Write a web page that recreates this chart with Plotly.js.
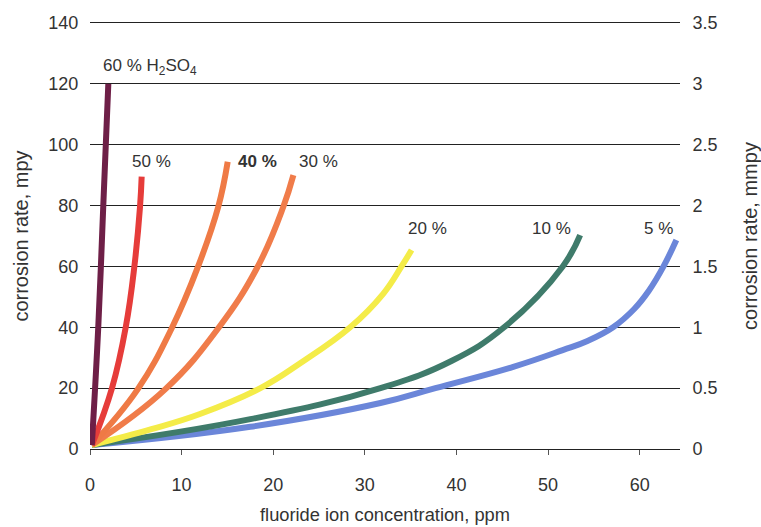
<!DOCTYPE html>
<html>
<head>
<meta charset="utf-8">
<script src="https://cdn.plot.ly/plotly-3.0.1.min.js"></script>
<style>html,body{margin:0;padding:0;background:#fff;}#chart{width:761px;height:527px;}</style>
</head>
<body>
<div id="chart"></div>
<script>
// Fluoride ion concentration (ppm) vs corrosion rate (mpy)
var seriesNames = ["60 %", "50 %", "40 %", "30 %", "20 %", "10 %", "5 %"];
var x60 = [0.2, 0.9, 1.45, 2.0];
var y60 = [1.3, 40, 80, 120];
var x50 = [0.2, 2.4, 3.9, 4.84, 5.46, 5.64];
var y50 = [1.3, 20, 40, 59.9, 79.6, 89.5];
var x40 = [0.2, 5.2, 8.92, 11.8, 14.0, 15.03];
var y40 = [1.3, 19.6, 39.7, 60, 79.6, 94.4];
var x30 = [0.2, 8.2, 14.0, 18.3, 21.1, 22.2];
var y30 = [1.3, 19.6, 39.7, 59.9, 79.6, 90];
var x20 = [0.2, 6.7, 12.0, 18.6, 22.9, 28.4, 32.0, 34.0, 35.1];
var y20 = [1.3, 6.5, 11.5, 20, 28.1, 40, 51, 60, 65.4];
var x10 = [0.2, 17.5, 31.7, 39.5, 45.2, 51.6, 53.5];
var y10 = [1.3, 9.8, 20, 29, 40, 60, 70.3];
var x5 = [0.2, 17.5, 31.7, 37.7, 46.2, 51.6, 54.3, 57.1, 59.4, 61.0, 62.6, 64.0];
var y5 = [1.3, 7.3, 15.1, 20, 27, 32.5, 35.5, 40, 46, 52, 60, 68.7];
var leftTicks = [0, 20, 40, 60, 80, 100, 120, 140];
var rightTicks = [0, 0.5, 1, 1.5, 2, 2.5, 3, 3.5];
var xTicks = [0, 10, 20, 30, 40, 50, 60];

var colors = ["#6e1f47", "#e63c3a", "#ef7a45", "#f07c4a", "#f4ec48", "#3f7b6b", "#6b86d9"];
var xs = [x60, x50, x40, x30, x20, x10, x5];
var ys = [y60, y50, y40, y30, y20, y10, y5];

var font = "Liberation Sans, Arial, sans-serif";
var traces = [];
for (var i = xs.length - 1; i >= 0; i--) {
  traces.push({
    x: xs[i], y: ys[i], name: seriesNames[i], type: "scatter", mode: "lines",
    line: {color: colors[i], width: 6, shape: "spline", smoothing: 1.2},
    hoverinfo: "x+y"
  });
}
// invisible trace to activate right axis
traces.push({x: [0], y: [0], yaxis: "y2", mode: "markers", marker: {opacity: 0}, showlegend: false, hoverinfo: "skip"});

var labelFont = {family: font, size: 17, color: "#333"};
var annotations = [
  {x: 6.55, y: 125.5, text: "60 % H<sub>2</sub>SO<sub>4</sub>"},
  {x: 6.66, y: 94.5, text: "50 %"},
  {x: 18.3, y: 94.5, text: "<b>40 %</b>"},
  {x: 24.9, y: 94.5, text: "30 %"},
  {x: 36.8, y: 72.5, text: "20 %"},
  {x: 50.4, y: 72.5, text: "10 %"},
  {x: 62.0, y: 72.5, text: "5 %"}
].map(function(a){
  return {x: a.x, y: a.y, xref: "x", yref: "y", text: a.text, showarrow: false, font: labelFont, xanchor: "center", yanchor: "middle"};
});

var tickFont = {family: font, size: 18, color: "#333"};
var layout = {
  width: 761, height: 527,
  margin: {l: 90, r: 81, t: 23, b: 78},
  paper_bgcolor: "#fff", plot_bgcolor: "#fff",
  showlegend: false,
  font: {family: font, size: 17, color: "#333"},
  xaxis: {
    range: [0, 64.4], tickvals: xTicks, ticktext: xTicks.map(String),
    showgrid: false, zeroline: false,
    showline: true, mirror: true, linecolor: "#222", linewidth: 1.2,
    ticks: "outside", ticklen: 5, tickcolor: "#555", tickwidth: 1,
    ticklabelstandoff: 14,
    tickfont: tickFont,
    title: {text: "fluoride ion concentration, ppm", font: {family: font, size: 18.3, color: "#333"}, standoff: 14}
  },
  yaxis: {
    range: [0, 140], tickvals: leftTicks, ticktext: leftTicks.map(String),
    showgrid: true, gridcolor: "#222", gridwidth: 1.2, zeroline: false, showline: false,
    ticks: "outside", ticklen: 7, tickcolor: "rgba(0,0,0,0)",
    tickfont: tickFont,
    title: {text: "corrosion rate, mpy", font: {family: font, size: 20, color: "#333"}, standoff: 14}
  },
  yaxis2: {
    range: [0, 3.5], tickvals: rightTicks, ticktext: rightTicks.map(String),
    overlaying: "y", side: "right", showgrid: false, zeroline: false, showline: false,
    ticks: "outside", ticklen: 8, tickcolor: "rgba(0,0,0,0)",
    tickfont: tickFont,
    title: {text: "corrosion rate, mmpy", font: {family: font, size: 20, color: "#333"}, standoff: 27}
  },
  annotations: annotations
};
Plotly.newPlot("chart", traces, layout, {displayModeBar: false, staticPlot: true});
</script>
</body>
</html>
